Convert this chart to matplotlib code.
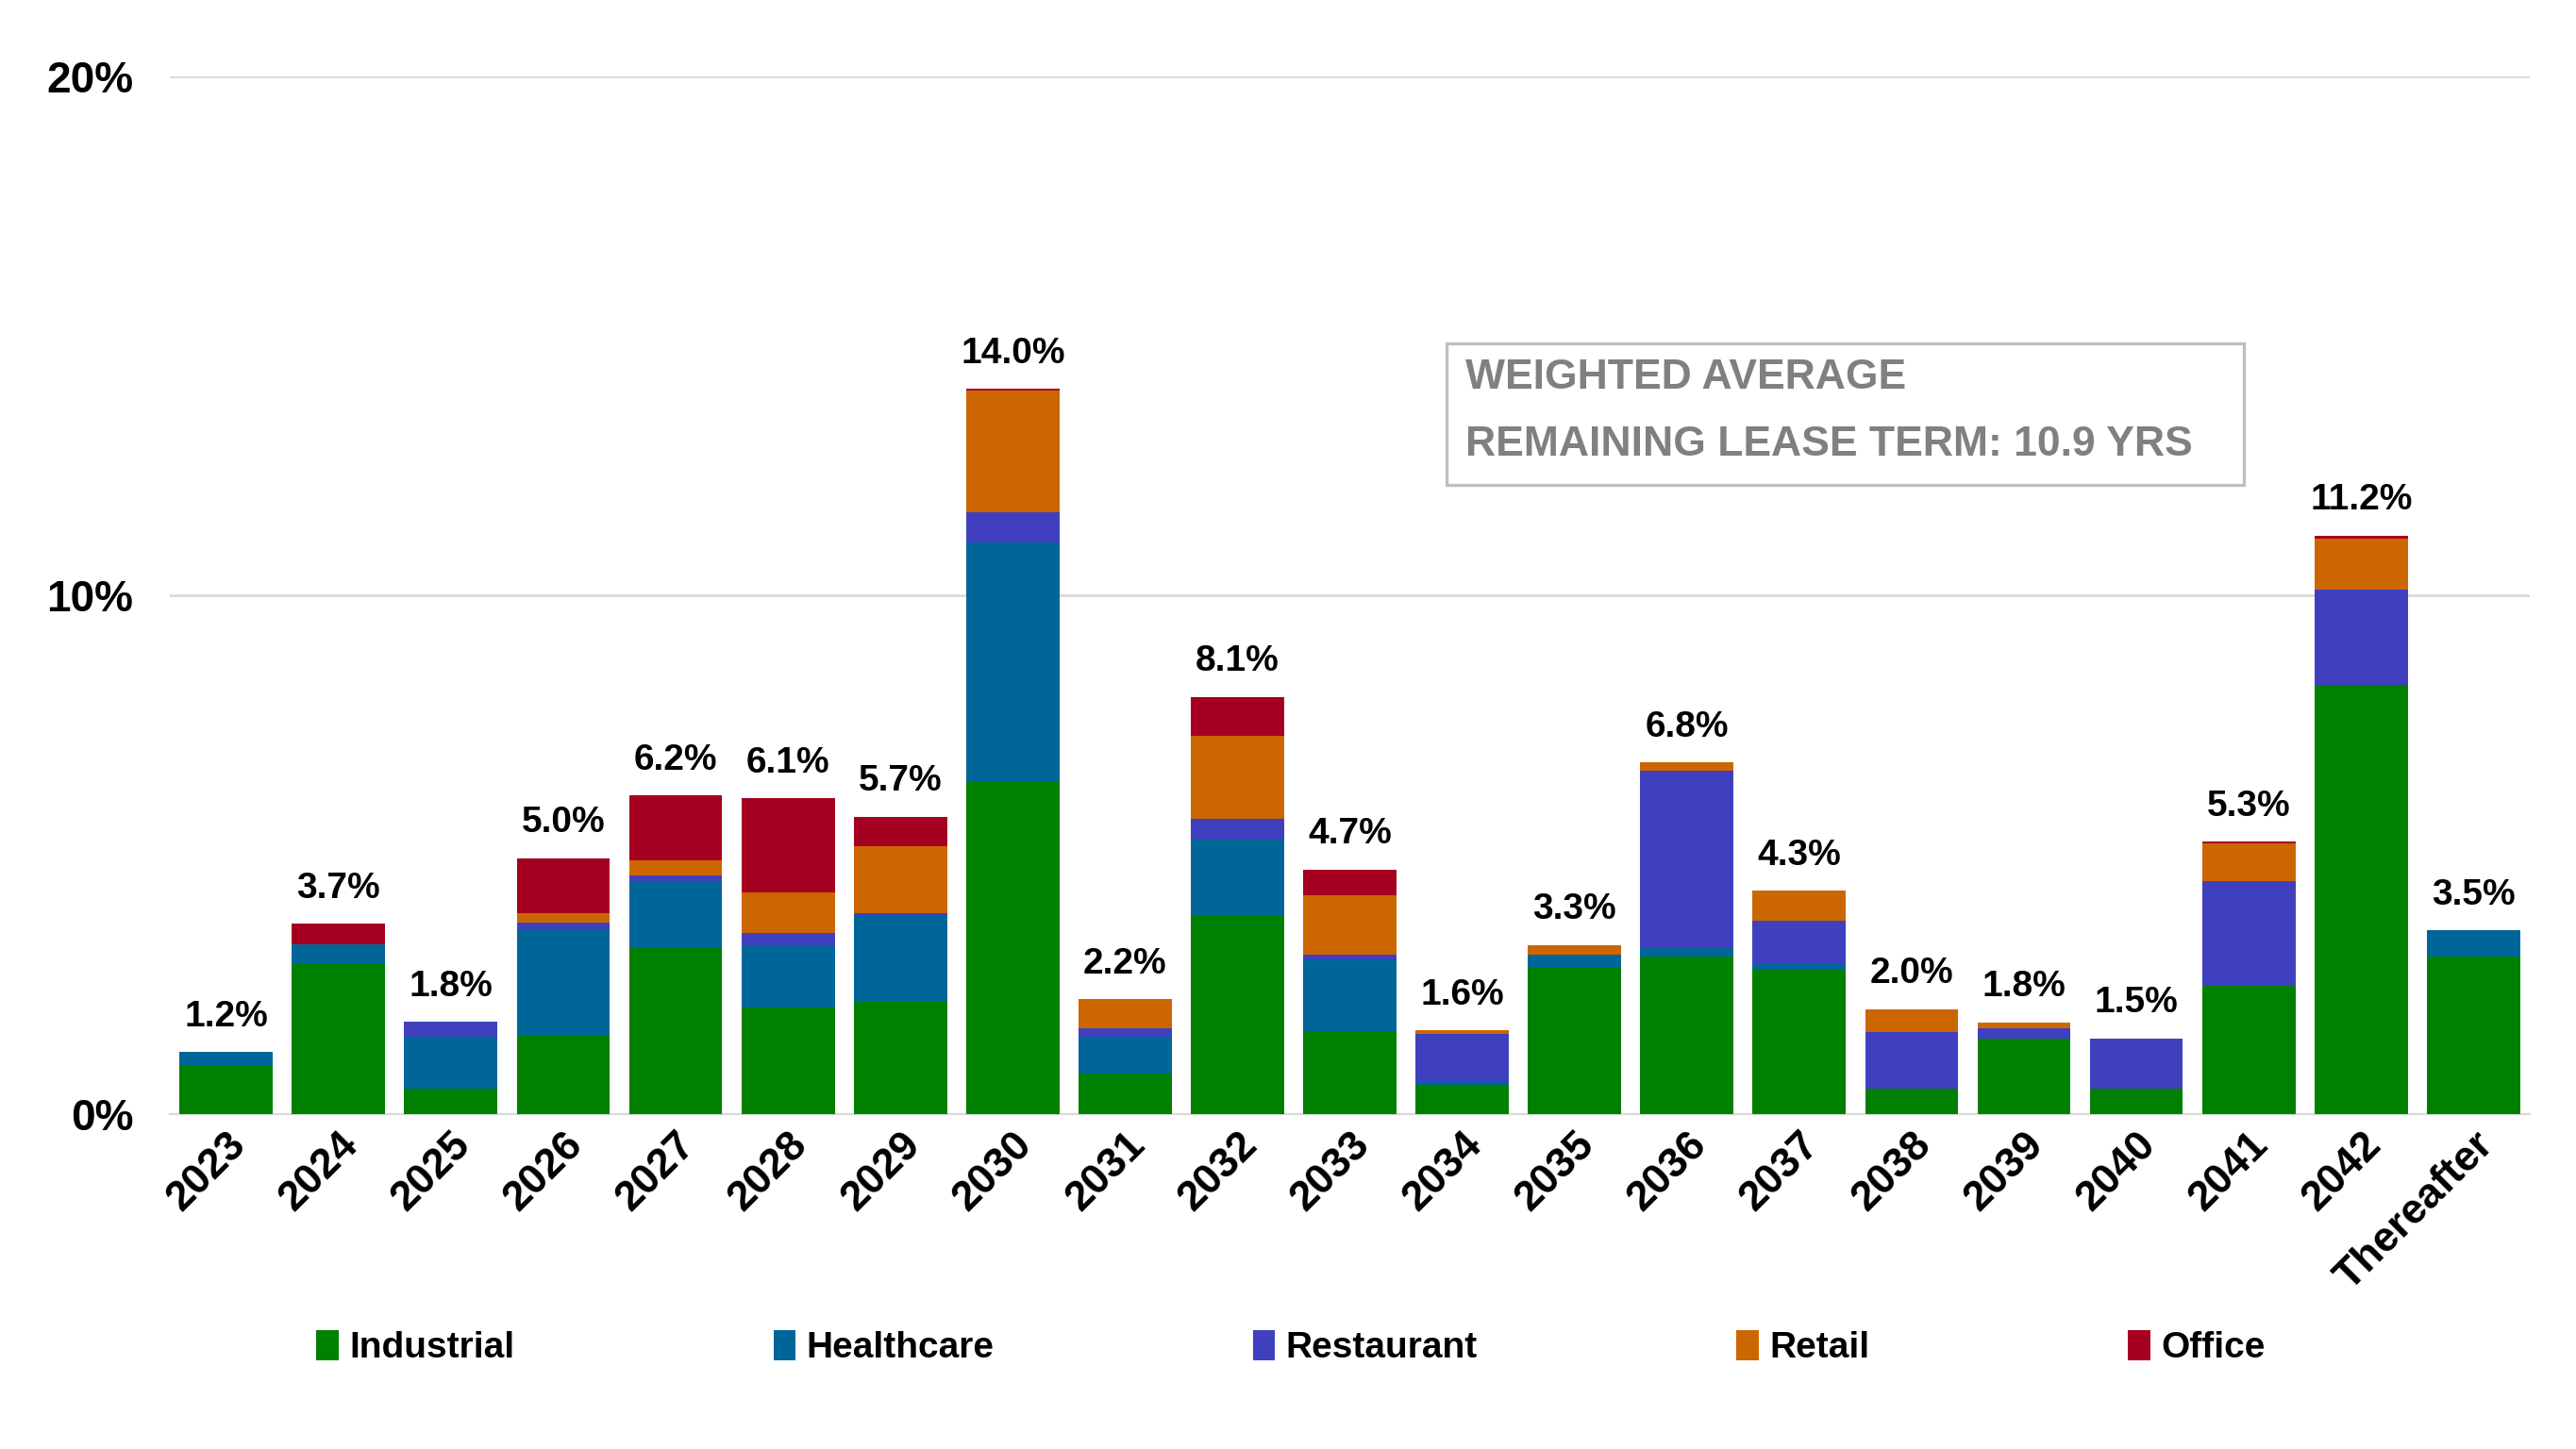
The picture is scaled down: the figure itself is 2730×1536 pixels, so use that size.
import matplotlib.pyplot as plt
import numpy as np
from matplotlib.patches import Rectangle

plt.rcParams['font.family'] = ['Liberation Sans', 'DejaVu Sans']

years = ['2023', '2024', '2025', '2026', '2027', '2028', '2029', '2030', '2031', '2032', '2033',
         '2034', '2035', '2036', '2037', '2038', '2039', '2040', '2041', '2042', 'Thereafter']

industrial = [0.95, 2.92, 0.50, 1.52, 3.20, 2.06, 2.16, 6.40, 0.79, 3.84, 1.58,
              0.57, 2.82, 3.04, 2.79, 0.50, 1.46, 0.50, 2.47, 8.27, 3.04]
healthcare = [0.25, 0.35, 1.00, 2.03, 1.27, 1.20, 1.68, 4.63, 0.70, 1.45, 1.40,
              0.06, 0.25, 0.19, 0.13, 0.00, 0.00, 0.00, 0.00, 0.00, 0.51]
restaurant = [0.00, 0.00, 0.28, 0.15, 0.13, 0.23, 0.03, 0.57, 0.16, 0.41, 0.09,
              0.92, 0.00, 3.39, 0.82, 1.08, 0.19, 0.96, 2.03, 1.84, 0.00]
retail = [0.00, 0.00, 0.00, 0.17, 0.30, 0.79, 1.30, 2.35, 0.57, 1.59, 1.15,
          0.07, 0.19, 0.16, 0.57, 0.45, 0.12, 0.00, 0.73, 0.98, 0.00]
office = [0.00, 0.40, 0.00, 1.07, 1.25, 1.81, 0.57, 0.03, 0.00, 0.76, 0.50,
          0.00, 0.00, 0.00, 0.00, 0.00, 0.00, 0.00, 0.02, 0.07, 0.00]
total_labels = ['1.2%', '3.7%', '1.8%', '5.0%', '6.2%', '6.1%', '5.7%', '14.0%', '2.2%', '8.1%', '4.7%',
                '1.6%', '3.3%', '6.8%', '4.3%', '2.0%', '1.8%', '1.5%', '5.3%', '11.2%', '3.5%']

series = [('Industrial', industrial, '#008000'),
          ('Healthcare', healthcare, '#006699'),
          ('Restaurant', restaurant, '#4040BF'),
          ('Retail', retail, '#CC6600'),
          ('Office', office, '#A50021')]

fig = plt.figure(figsize=(13.65, 7.68), dpi=200)
ax = fig.add_axes([0.066, 0.231, 0.916, 0.716])

x = np.arange(len(years))
bottom = np.zeros(len(years))
for name, vals, color in series:
    vals = np.array(vals)
    ax.bar(x, vals, 0.83, bottom=bottom, color=color, label=name, zorder=3)
    bottom += vals

for xi, top, lab in zip(x, bottom, total_labels):
    ax.annotate(lab, (xi, top), xytext=(0, 7), textcoords='offset points',
                ha='center', va='bottom', fontsize=14, fontweight='bold')

ax.set_xlim(-0.5, len(years) - 0.5)
ax.set_ylim(0, 20)
ax.set_yticks([0, 10, 20])
ax.set_yticklabels(['0%', '10%', '20%'], fontsize=16.5, fontweight='bold')
ax.grid(axis='y', color='#D9D9D9', linewidth=1, zorder=0)
for s in ['top', 'right', 'left']:
    ax.spines[s].set_visible(False)
ax.spines['bottom'].set_color('#D9D9D9')
ax.tick_params(axis='both', length=0)
ax.tick_params(axis='y', pad=14)
ax.set_xticks(x)
ax.set_xticklabels(years, rotation=45, ha='right', va='top', rotation_mode='anchor',
                   fontsize=16, fontweight='bold')
ax.tick_params(axis='x', pad=4)

# weighted average box
ax.add_patch(Rectangle((0.541, 12.14 / 20), 0.338, 2.73 / 20, transform=ax.transAxes,
                       fill=False, edgecolor='#BFBFBF', linewidth=1.2, zorder=4))
ax.text(0.549, 14.2, 'WEIGHTED AVERAGE', transform=ax.get_yaxis_transform(),
        color='#808080', fontsize=16, fontweight='bold', va='center')
ax.text(0.549, 12.9, 'REMAINING LEASE TERM: 10.9 YRS', transform=ax.get_yaxis_transform(),
        color='#808080', fontsize=16, fontweight='bold', va='center')

fig.legend(loc='center left', bbox_to_anchor=(0.11, 0.07), ncol=5, frameon=False,
           prop={'weight': 'bold', 'size': 14},
           handlelength=0.6, handleheight=0.9, handletextpad=0.3, columnspacing=7.05)

fig.savefig('out.png', dpi=200)
